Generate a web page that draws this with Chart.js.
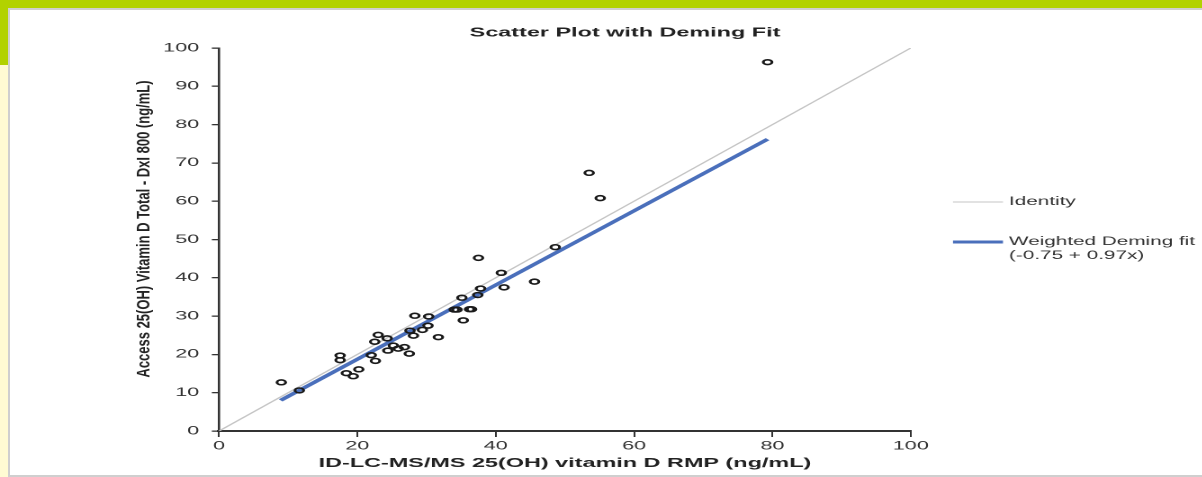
<!DOCTYPE html>
<html>
<head>
<meta charset="utf-8">
<script src="https://cdn.jsdelivr.net/npm/chart.js@4"></script>
<style>
  html, body { margin: 0; padding: 0; background: #fff; overflow: hidden; }
  body { width: 1202px; height: 477px; position: relative; font-family: "Liberation Sans", Arial, sans-serif; }
  .bar-top { position: absolute; left: 0; top: 0; width: 1202px; height: 8px; background: #b2d200; }
  .bar-left { position: absolute; left: 0; top: 0; width: 8px; height: 65px; background: #b2d200; }
  .strip-left { position: absolute; left: 0; top: 65px; width: 8px; height: 412px; background: #fffbd3; }
  .panel { position: absolute; left: 8px; top: 8px; width: 1200px; height: 465px; background: #fff;
           border-top: 2px solid #cfcfcf; border-left: 2px solid #cfcfcf; border-bottom: 2px solid #cfcfcf; }
  #chart { position: absolute; left: 0; top: 0; transform: scaleX(1.8); transform-origin: 0 0; }
</style>
</head>
<body>
<div class="bar-top"></div>
<div class="bar-left"></div>
<div class="strip-left"></div>
<div class="panel"></div>
<canvas id="chart" width="668" height="477"></canvas>
<script>
// the reference picture is stretched sideways, so the canvas is drawn narrow and widened by CSS
const STRETCH = 1.8;
const Y_TITLE_STRETCH = 1.35; // the rotated y title is widened less
const FONT = '"Liberation Sans", Arial, sans-serif';

// Data
const chartTitle = 'Scatter Plot with Deming Fit';
const xTitle = 'ID-LC-MS/MS 25(OH) vitamin D RMP (ng/mL)';
const yTitle = 'Access 25(OH) Vitamin D Total - DxI 800 (ng/mL)';

const xTicks = [0, 20, 40, 60, 80, 100];
const yTicks = [0, 10, 20, 30, 40, 50, 60, 70, 80, 90, 100];

const rmpValues = [9.0, 11.6, 17.5, 17.5, 18.4, 19.4, 20.2, 22.0, 22.6, 22.5,
                   23.0, 24.3, 24.4, 25.2, 25.9, 26.8, 27.5, 27.6, 28.1, 28.3,
                   29.4, 30.2, 30.3, 31.7, 34.0, 34.4, 35.3, 35.1, 36.2, 36.5,
                   37.5, 37.4, 37.8, 40.8, 41.2, 45.6, 48.6, 53.5, 55.1, 79.3];
const accessValues = [12.7, 10.6, 19.7, 18.5, 15.1, 14.3, 16.1, 19.8, 18.3, 23.3,
                      25.1, 24.2, 21.0, 22.3, 21.5, 21.9, 20.2, 26.2, 24.9, 30.1,
                      26.4, 27.5, 29.9, 24.5, 31.7, 31.7, 28.9, 34.8, 31.8, 31.8,
                      45.2, 35.5, 37.2, 41.3, 37.5, 39.0, 48.0, 67.4, 60.8, 96.3];

const identityX = [0, 100];
const identityY = [0, 100];
const demingX = [8.9, 79.3];
const demingY = [8.0, 76.2];

const identityLabel = ['Identity'];
const demingLabel = ['Weighted Deming fit', '(-0.75 + 0.97x)'];

const toPoints = (xs, ys) => xs.map((x, i) => ({ x: x, y: ys[i] }));

// titles, y title and the legend
const overlayPlugin = {
    id: 'overlay',
    afterDraw(chart) {
        const ctx = chart.ctx;

        // chart title
        ctx.save();
        ctx.fillStyle = '#222';
        ctx.font = 'bold 13px ' + FONT;
        ctx.textAlign = 'center';
        ctx.textBaseline = 'middle';
        ctx.fillText(chartTitle, 625 / STRETCH, 33);
        ctx.restore();

        // y axis title
        ctx.save();
        ctx.translate(145 / STRETCH, 229);
        ctx.scale(Y_TITLE_STRETCH / STRETCH, 1);
        ctx.rotate(-Math.PI / 2);
        ctx.fillStyle = '#222';
        ctx.font = 'bold 13px ' + FONT;
        ctx.textAlign = 'center';
        ctx.textBaseline = 'middle';
        ctx.fillText(yTitle, 0, 0);
        ctx.restore();

        // legend
        const rows = [
            { ds: chart.data.datasets[2], y: 202 },
            { ds: chart.data.datasets[1], y: 242 }
        ];
        ctx.save();
        ctx.font = '11.5px ' + FONT;
        ctx.fillStyle = '#333';
        ctx.textAlign = 'left';
        ctx.textBaseline = 'middle';
        rows.forEach(row => {
            ctx.strokeStyle = row.ds.borderColor;
            ctx.lineWidth = row.ds.borderWidth;
            ctx.beginPath();
            ctx.moveTo(953 / STRETCH, row.y);
            ctx.lineTo(1003 / STRETCH, row.y);
            ctx.stroke();
            row.ds.label.forEach((line, i) => {
                ctx.fillText(line, 1009 / STRETCH, row.y + i * 14);
            });
        });
        ctx.restore();
    }
};

const ctx = document.getElementById('chart').getContext('2d');
new Chart(ctx, {
    type: 'scatter',
    data: {
        datasets: [
            {
                label: 'Data',
                data: toPoints(rmpValues, accessValues),
                pointStyle: 'circle',
                pointRadius: 2.4,
                pointBorderWidth: 1.6,
                pointBorderColor: '#1a1a1a',
                pointBackgroundColor: 'rgba(255,255,255,0)',
                showLine: false,
                order: 0
            },
            {
                label: demingLabel,
                data: toPoints(demingX, demingY),
                showLine: true,
                borderColor: '#4a6fbb',
                borderWidth: 3,
                pointRadius: 0,
                order: 1
            },
            {
                label: identityLabel,
                data: toPoints(identityX, identityY),
                showLine: true,
                borderColor: '#c4c4c4',
                borderWidth: 1.1,
                pointRadius: 0,
                order: 2
            }
        ]
    },
    options: {
        responsive: false,
        animation: false,
        devicePixelRatio: 2,
        events: [],
        layout: { padding: { left: 60, top: 48, right: 162, bottom: 2 } },
        plugins: {
            legend: { display: false },
            tooltip: { enabled: false },
            title: { display: false }
        },
        scales: {
            x: {
                type: 'linear',
                min: 0,
                max: 100,
                afterBuildTicks: s => { s.ticks = xTicks.map(v => ({ value: v })); },
                afterFit: s => { s.height = 44; },
                grid: { drawOnChartArea: false, drawTicks: true, tickLength: 6, color: '#333', lineWidth: 1 },
                border: { color: '#333', width: 2 },
                ticks: { color: '#333', font: { family: FONT, size: 12 }, padding: 2, maxRotation: 0 },
                title: {
                    display: true,
                    text: xTitle,
                    color: '#222',
                    font: { family: FONT, size: 13, weight: 'bold' },
                    padding: { top: 0, bottom: 4 }
                }
            },
            y: {
                type: 'linear',
                min: 0,
                max: 100,
                afterBuildTicks: s => { s.ticks = yTicks.map(v => ({ value: v })); },
                afterFit: s => { s.width = 61.7; },
                grid: { drawOnChartArea: false, drawTicks: true, tickLength: 4, color: '#333', lineWidth: 1.3 },
                border: { color: '#333', width: 1.3 },
                ticks: { color: '#333', font: { family: FONT, size: 12 }, padding: 7 },
                title: { display: false }
            }
        }
    },
    plugins: [overlayPlugin]
});
</script>
</body>
</html>
